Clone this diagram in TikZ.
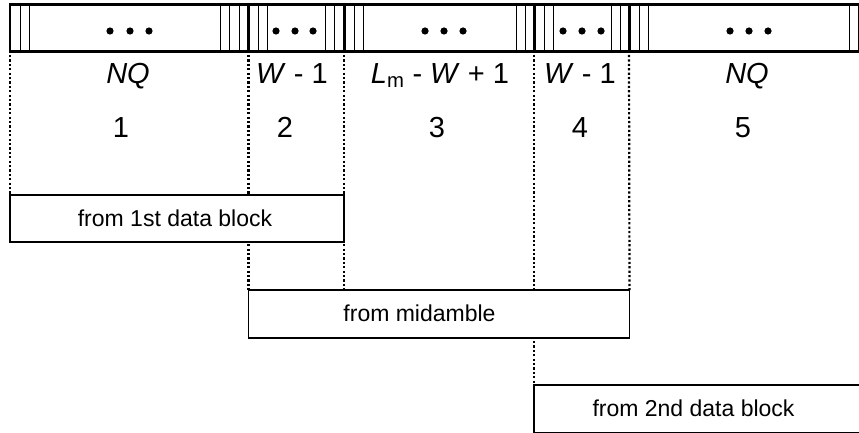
\documentclass[tikz,border=0pt]{standalone}
\usepackage{fontspec}
\setmainfont{Liberation Sans}
\usetikzlibrary{backgrounds,calc}
\begin{document}
\begin{tikzpicture}[x=1pt,y=-1pt,
  thinln/.style={line width=1pt},
  thickln/.style={line width=3pt},
  framebar/.style={line width=2.6pt},
  bdot/.style={fill=black, draw=none},
  dotln/.style={line width=2.2pt, dash pattern=on 2.2pt off 2.2pt},
  blk/.style={draw, line width=1.3pt, fill=white, outer sep=0pt, inner sep=0pt, anchor=north west},
  btxt/.style={anchor=base, inner sep=0pt, font=\fontsize{23}{23}\selectfont},
  lbl/.style={anchor=base, inner sep=0pt, font=\fontsize{29}{29}\selectfont}]
\clip (0,0) rectangle (859,433);

% top bar
\draw[framebar] (10,4.5) rectangle (859,51.5);
\foreach \x in {20,29.5,220,229.5,239,258,267.5,325,334.5,354,363,516,525.5,544,553,611,620.5,639,648.5,849}
  \draw[thinln] (\x,4.5) -- (\x,51.5);
\foreach \x in {248.5,344,534,629}
  \draw[thickln] (\x,4.5) -- (\x,51.5);
\foreach \x in {110,130,149,276,295,313,425,444,463,563,582,601,730,749,768}
  \fill[bdot] (\x,31) circle (3.6);

% bar boundary points
\coordinate (d1) at (10,55);
\coordinate (d2) at (248.5,55);
\coordinate (d3) at (344,55);
\coordinate (d4) at (534,55);
\coordinate (d5) at (629,55);

% boxes
\node[blk, minimum width=334pt, minimum height=47pt] (b1) at (10,195) {};
\node[blk, minimum width=381pt, minimum height=48pt] (b2) at (248.5,290) {};
\node[blk, minimum width=345pt, minimum height=48pt] (b3) at (534,385) {};
\node[btxt] (t1) at (175,226.5) {from 1st data block};
\node[btxt] (t2) at (419.5,321.5) {from midamble};
\node[btxt] (t3) at (693.5,416.5) {from 2nd data block};

% dotted guides
\begin{scope}[on background layer]
  \fill[white] (0,0) rectangle (859,433);
  \draw[dotln] (d1) -- (b1.north west);
  \draw[dotln] (d2) -- (b2.north west);
  \draw[dotln] (d3) -- (d3 |- b2.north);
  \draw[dotln] (d4) -- (b3.north west);
  \draw[dotln] (d5) -- (b2.north east);
\end{scope}

% labels
\node[lbl] (l1) at (128,84) {\textit{NQ}};
\node[lbl] (l2) at (292,84) {\textit{W} - 1};
\node[lbl] (l3) at (440,84) {\textit{L}\textsubscript{m} - \textit{W} + 1};
\node[lbl] (l4) at (580,84) {\textit{W} - 1};
\node[lbl] (l5) at (747,84) {\textit{NQ}};
\node[lbl] (n1) at (121,138) {1};
\node[lbl] (n2) at (285,138) {2};
\node[lbl] (n3) at (437,138) {3};
\node[lbl] (n4) at (580,138) {4};
\node[lbl] (n5) at (743,138) {5};
\end{tikzpicture}
\end{document}
